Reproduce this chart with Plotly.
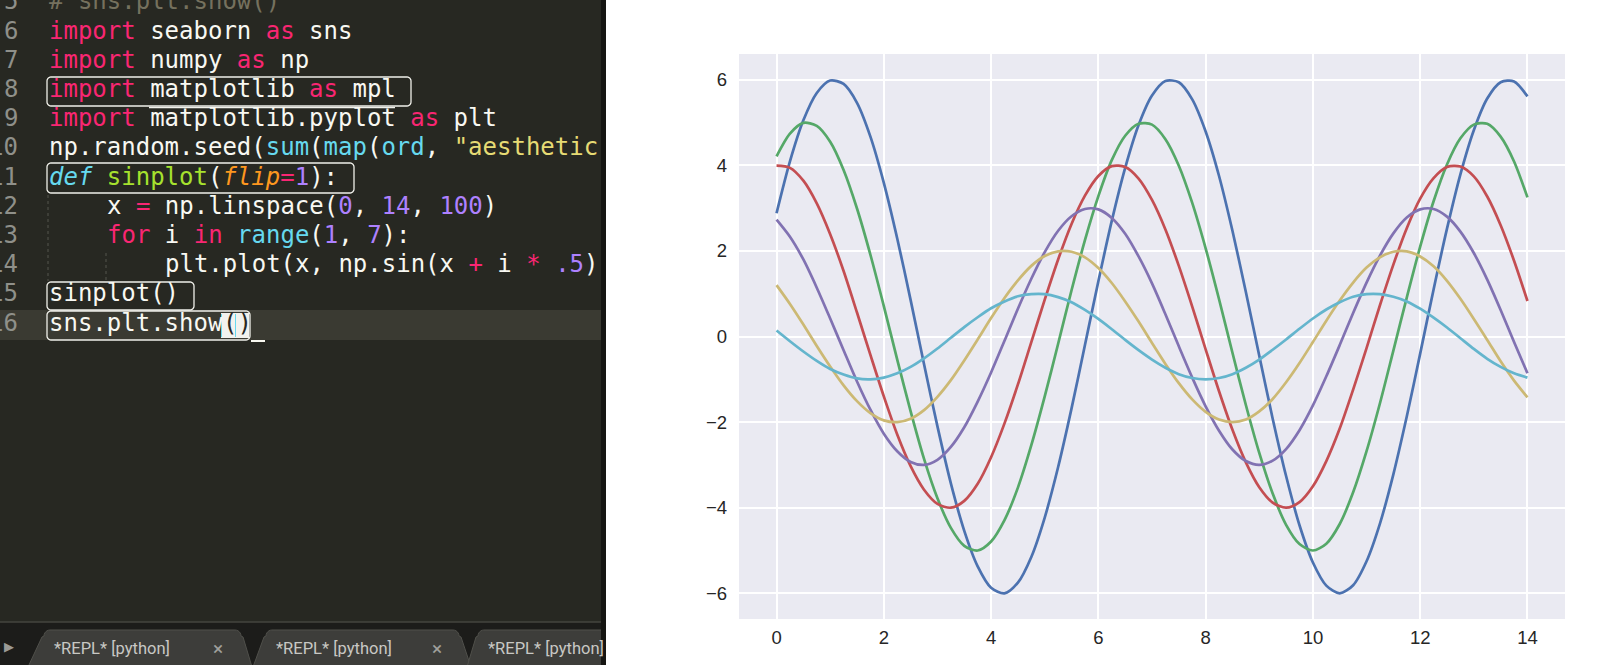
import math
import plotly.graph_objects as go

# ---------------- data ----------------
x_vals = [0, 0.25, 0.5, 0.75, 1, 1.25, 1.5, 1.75, 2, 2.25, 2.5, 2.75, 3, 3.25, 3.5, 3.75, 4, 4.25, 4.5,
          4.75, 5, 5.25, 5.5, 5.75, 6, 6.25, 6.5, 6.75, 7, 7.25, 7.5, 7.75, 8, 8.25, 8.5, 8.75, 9, 9.25,
          9.5, 9.75, 10, 10.25, 10.5, 10.75, 11, 11.25, 11.5, 11.75, 12, 12.25, 12.5, 12.75, 13, 13.25,
          13.5, 13.75, 14]
blue = [2.88, 4.09, 5.05, 5.69, 5.98, 5.90, 5.46, 4.67, 3.59, 2.29, 0.85, -0.65, -2.10, -3.43, -4.54,
        -5.37, -5.87, -6.00, -5.75, -5.15, -4.23, -3.05, -1.68, -0.20, 1.29, 2.70, 3.94, 4.94, 5.63, 5.97,
        5.94, 5.54, 4.79, 3.75, 2.47, 1.04, -0.45, -1.92, -3.26, -4.41, -5.28, -5.82, -6.00, -5.81, -5.25,
        -4.37, -3.22, -1.87, -0.40, 1.10, 2.52, 3.79, 4.82, 5.56, 5.94, 5.96, 5.61]
green = [4.21, 4.74, 4.99, 4.92, 4.55, 3.89, 2.99, 1.91, 0.71, -0.54, -1.75, -2.86, -3.78, -4.47, -4.89,
         -5.00, -4.79, -4.29, -3.53, -2.54, -1.40, -0.17, 1.08, 2.25, 3.28, 4.12, 4.69, 4.97, 4.95, 4.61,
         3.99, 3.12, 2.06, 0.87, -0.38, -1.60, -2.72, -3.67, -4.40, -4.85, -5.00, -4.84, -4.38, -3.64,
         -2.68, -1.56, -0.33, 0.91, 2.10, 3.16, 4.02, 4.63, 4.95, 4.97, 4.67, 4.09, 3.25]
red = [3.99, 3.94, 3.64, 3.11, 2.39, 1.53, 0.56, -0.43, -1.40, -2.29, -3.03, -3.58, -3.91, -4.00, -3.84,
       -3.44, -2.82, -2.03, -1.12, -0.13, 0.86, 1.80, 2.63, 3.29, 3.75, 3.98, 3.96, 3.69, 3.19, 2.50,
       1.65, 0.70, -0.30, -1.28, -2.18, -2.94, -3.52, -3.88, -4.00, -3.87, -3.50, -2.91, -2.15, -1.24,
       -0.27, 0.73, 1.68, 2.53, 3.22, 3.70, 3.96, 3.97, 3.74, 3.27, 2.60, 1.77, 0.83]
purple = [2.73, 2.33, 1.80, 1.14, 0.42, -0.32, -1.05, -1.71, -2.27, -2.68, -2.93, -3.00, -2.88, -2.58,
          -2.12, -1.52, -0.84, -0.10, 0.65, 1.35, 1.97, 2.47, 2.81, 2.98, 2.97, 2.77, 2.40, 1.87, 1.24,
          0.52, -0.23, -0.96, -1.63, -2.20, -2.64, -2.91, -3.00, -2.90, -2.63, -2.19, -1.61, -0.93, -0.20,
          0.55, 1.26, 1.89, 2.41, 2.78, 2.97, 2.98, 2.80, 2.45, 1.95, 1.33, 0.62, -0.13, -0.86]
yellow = [1.20, 0.76, 0.28, -0.22, -0.70, -1.14, -1.51, -1.79, -1.96, -2.00, -1.92, -1.72, -1.41, -1.02,
          -0.56, -0.07, 0.43, 0.90, 1.31, 1.65, 1.88, 1.99, 1.98, 1.85, 1.60, 1.25, 0.82, 0.35, -0.15,
          -0.64, -1.09, -1.47, -1.76, -1.94, -2.00, -1.94, -1.75, -1.46, -1.07, -0.62, -0.13, 0.37, 0.84,
          1.26, 1.61, 1.85, 1.98, 1.99, 1.87, 1.64, 1.30, 0.88, 0.41, -0.08, -0.58, -1.03, -1.42]
cyan = [0.14, -0.11, -0.35, -0.57, -0.76, -0.89, -0.98, -1.00, -0.96, -0.86, -0.71, -0.51, -0.28, -0.03,
        0.22, 0.45, 0.66, 0.82, 0.94, 0.99, 0.99, 0.92, 0.80, 0.62, 0.41, 0.17, -0.08, -0.32, -0.54, -0.73,
        -0.88, -0.97, -1.00, -0.97, -0.88, -0.73, -0.54, -0.31, -0.07, 0.18, 0.42, 0.63, 0.80, 0.93, 0.99,
        0.99, 0.93, 0.82, 0.65, 0.44, 0.21, -0.04, -0.29, -0.52, -0.71, -0.86, -0.96]
series = [blue, green, red, purple, yellow, cyan]
series_colors = ["#4C72B0", "#55A868", "#C44E52", "#8172B2", "#CCB974", "#64B5CD"]
x_ticks = [0, 2, 4, 6, 8, 10, 12, 14]
y_ticks = [-6, -4, -2, 0, 2, 4, 6]

# editor text (segments: text, colour, italic)
PINK, WHITE, CYAN, YEL, PURP, GRN, ORG, CMT = ("#F92672", "#F8F8F2", "#66D9EF", "#E6DB74",
                                               "#AE81FF", "#A6E22E", "#FD971F", "#75715E")
code_lines = [
    (5, 0, [("# sns.plt.show()", CMT, False)]),
    (6, 0, [("import", PINK, False), (" seaborn ", WHITE, False), ("as", PINK, False), (" sns", WHITE, False)]),
    (7, 0, [("import", PINK, False), (" numpy ", WHITE, False), ("as", PINK, False), (" np", WHITE, False)]),
    (8, 0, [("import", PINK, False), (" matplotlib ", WHITE, False), ("as", PINK, False), (" mpl", WHITE, False)]),
    (9, 0, [("import", PINK, False), (" matplotlib.pyplot ", WHITE, False), ("as", PINK, False), (" plt", WHITE, False)]),
    (10, 0, [("np.random.seed(", WHITE, False), ("sum", CYAN, False), ("(", WHITE, False), ("map", CYAN, False),
             ("(", WHITE, False), ("ord", CYAN, False), (", ", WHITE, False), ('"aesthetic', YEL, False)]),
    (11, 0, [("def", CYAN, True), (" ", WHITE, False), ("sinplot", GRN, False), ("(", WHITE, False),
             ("flip", ORG, True), ("=", PINK, False), ("1", PURP, False), ("):", WHITE, False)]),
    (12, 4, [("x ", WHITE, False), ("=", PINK, False), (" np.linspace(", WHITE, False), ("0", PURP, False),
             (", ", WHITE, False), ("14", PURP, False), (", ", WHITE, False), ("100", PURP, False), (")", WHITE, False)]),
    (13, 4, [("for", PINK, False), (" i ", WHITE, False), ("in", PINK, False), (" ", WHITE, False),
             ("range", CYAN, False), ("(", WHITE, False), ("1", PURP, False), (", ", WHITE, False),
             ("7", PURP, False), ("):", WHITE, False)]),
    (14, 8, [("plt.plot(x, np.sin(x ", WHITE, False), ("+", PINK, False), (" i ", WHITE, False),
             ("*", PINK, False), (" ", WHITE, False), (".5", PURP, False), (")", WHITE, False)]),
    (15, 0, [("sinplot()", WHITE, False)]),
    (16, 0, [("sns.plt.show", WHITE, False)]),
]
tab_labels = ["*REPL* [python]", "*REPL* [python]", "*REPL* [python]"]

# ---------------- geometry helpers (pixel -> paper) ----------------
W, H = 1600, 665
ML, MR, MT, MB = 739, 35, 54, 46
PW, PH = W - ML - MR, H - MT - MB


def PX(x):
    return (x - ML) / PW


def PY(y):
    return (H - MB - y) / PH


CHAR = 14.45
TEXT_X = 48.4
LINE0_Y = 30.6
LINE_H = 29.2


def line_y(n):
    return LINE0_Y + (n - 6) * LINE_H


def path_from(points, close=True):
    s = "M {:.5f},{:.5f} ".format(PX(points[0][0]), PY(points[0][1]))
    for p in points[1:]:
        s += "L {:.5f},{:.5f} ".format(PX(p[0]), PY(p[1]))
    return s + ("Z" if close else "")


def rounded_rect(x0, y0, x1, y1, r):
    pts = []
    corners = [(x1 - r, y0 + r, -90), (x1 - r, y1 - r, 0), (x0 + r, y1 - r, 90), (x0 + r, y0 + r, 180)]
    for cx, cy, a0 in corners:
        for k in range(0, 7):
            a = math.radians(a0 + k * 15)
            pts.append((cx + r * math.cos(a), cy + r * math.sin(a)))
    return path_from(pts)


fig = go.Figure()
for vals, col in zip(series, series_colors):
    fig.add_trace(go.Scatter(x=x_vals, y=vals, mode="lines",
                             line=dict(color=col, width=2.7, shape="spline", smoothing=0.8),
                             hoverinfo="skip", showlegend=False))

shapes = []
annotations = []


def rect(x0, y0, x1, y1, fill):
    shapes.append(dict(type="rect", xref="paper", yref="paper", x0=PX(x0), x1=PX(x1), y0=PY(y0), y1=PY(y1),
                       fillcolor=fill, line=dict(width=0), layer="above"))


def hline(x0, x1, y, color, width, dash="solid"):
    shapes.append(dict(type="line", xref="paper", yref="paper", x0=PX(x0), x1=PX(x1), y0=PY(y), y1=PY(y),
                       line=dict(color=color, width=width, dash=dash), layer="above"))


def vline(x, y0, y1, color, width, dash="solid"):
    shapes.append(dict(type="line", xref="paper", yref="paper", x0=PX(x), x1=PX(x), y0=PY(y0), y1=PY(y1),
                       line=dict(color=color, width=width, dash=dash), layer="above"))


# editor panel
rect(-2, -2, 603, H + 2, "#272822")
rect(601, -2, 606, H + 2, "#151512")
rect(-2, 310, 601, 340, "#3A3A32")          # current line highlight
rect(-2, 622, 601, H + 2, "#1C1C1A")        # tab bar
hline(-2, 601, 622, "#45453F", 1.5)
tabs = [(28, 45, 240, 252), (253, 267, 458, 471), (467, 479, 700, 712)]
for (bl, tl, tr, br) in tabs:
    pts = [(bl, H + 2), (tl - 3, 637)]
    for k in range(0, 7):
        a = math.radians(180 + k * 15)
        pts.append((tl + 5 + 6 * math.cos(a), 636 + 6 * math.sin(a)))
    for k in range(0, 7):
        a = math.radians(270 + k * 15)
        pts.append((tr - 5 + 6 * math.cos(a), 636 + 6 * math.sin(a)))
    pts += [(tr + 3, 637), (br, H + 2)]
    shapes.append(dict(type="path", xref="paper", yref="paper", path=path_from(pts),
                       fillcolor="#3D3D3A", line=dict(color="#50504B", width=1), layer="above"))
rect(606, 600, 720, H + 2, "white")
rect(601, 600, 606, H + 2, "#151512")

# indent guides
vline(48, 195, 281, "#55554C", 1, "dot")
vline(106, 253, 281, "#55554C", 1, "dot")

# bracket highlight on line 16 and cursor
rect(221, 313, 249, 338, "#F2F2EE")
for xx in (221.5, 235.5):
    vline(xx, 314, 337, "#66D9EF", 1)
hline(251, 265, 341, "#F8F8F0", 2)

# highlight boxes
for (x0, y0, x1, y1) in [(47, 77, 411, 106), (47, 163, 354, 193), (47, 282, 194, 310), (47, 311, 250, 340)]:
    shapes.append(dict(type="path", xref="paper", yref="paper", path=rounded_rect(x0, y0, x1, y1, 4),
                       line=dict(color="#F0F0EA", width=1.3), layer="above"))
hline(149, 395, 107.5, "#F0F0EA", 1.5)

# code text
for n, indent, segs in code_lines:
    parts = []
    for t, c, it in segs:
        t = t.replace(" ", "\u00a0")
        s = '<span style="color:{}">{}</span>'.format(c, t)
        if it:
            s = "<i>" + s + "</i>"
        parts.append(s)
    annotations.append(dict(xref="paper", yref="paper", x=PX(TEXT_X + indent * CHAR), y=PY(line_y(n)),
                            xanchor="left", yanchor="middle", showarrow=False, borderpad=0,
                            text="".join(parts), align="left",
                            font=dict(family="DejaVu Sans Mono", size=24, color=WHITE)))
    annotations.append(dict(xref="paper", yref="paper", x=PX(18.5), y=PY(line_y(n)),
                            xanchor="right", yanchor="middle", showarrow=False, borderpad=0,
                            text=str(n), font=dict(family="DejaVu Sans Mono", size=24, color="#8F908A")))
annotations.append(dict(xref="paper", yref="paper", x=PX(TEXT_X + 12 * CHAR), y=PY(line_y(16)),
                        xanchor="left", yanchor="middle", showarrow=False, borderpad=0,
                        text="()", font=dict(family="DejaVu Sans Mono", size=24, color="#272822")))

# tab text
for (bl, tl, tr, br), lab in zip(tabs, tab_labels):
    annotations.append(dict(xref="paper", yref="paper", x=PX(tl + 8), y=PY(648), xanchor="left",
                            yanchor="middle", showarrow=False, borderpad=0, text=lab,
                            font=dict(family="Roboto", size=16.5, color="#C8C8C4")))
for xx in (218, 437):
    annotations.append(dict(xref="paper", yref="paper", x=PX(xx), y=PY(648), xanchor="center",
                            yanchor="middle", showarrow=False, borderpad=0, text="×",
                            font=dict(family="Roboto", size=19, color="#A0A09C")))
annotations.append(dict(xref="paper", yref="paper", x=PX(8.5), y=PY(646), xanchor="center",
                        yanchor="middle", showarrow=False, borderpad=0, text="▶",
                        font=dict(family="DejaVu Sans", size=13, color="#9A9A96")))

axis_font = dict(family="Liberation Sans, Arial, sans-serif", size=18.5, color="#262626")
fig.update_layout(
    width=W, height=H,
    margin=dict(l=ML, r=MR, t=MT, b=MB, pad=0),
    paper_bgcolor="white",
    plot_bgcolor="#EAEAF2",
    shapes=shapes,
    annotations=annotations,
    xaxis=dict(range=[-0.7, 14.7], tickvals=x_ticks, showgrid=True, gridcolor="white", gridwidth=1.8,
               zeroline=False, showline=False, ticks="", tickfont=axis_font, ticklabelstandoff=5),
    yaxis=dict(range=[-6.6, 6.6], tickvals=y_ticks, showgrid=True, gridcolor="white", gridwidth=1.8,
               zeroline=False, showline=False, ticks="", tickfont=axis_font, ticklabelstandoff=11),
)

fig.write_html("out.html", config={"displayModeBar": False},
               post_script="document.body.style.margin='0px';")
